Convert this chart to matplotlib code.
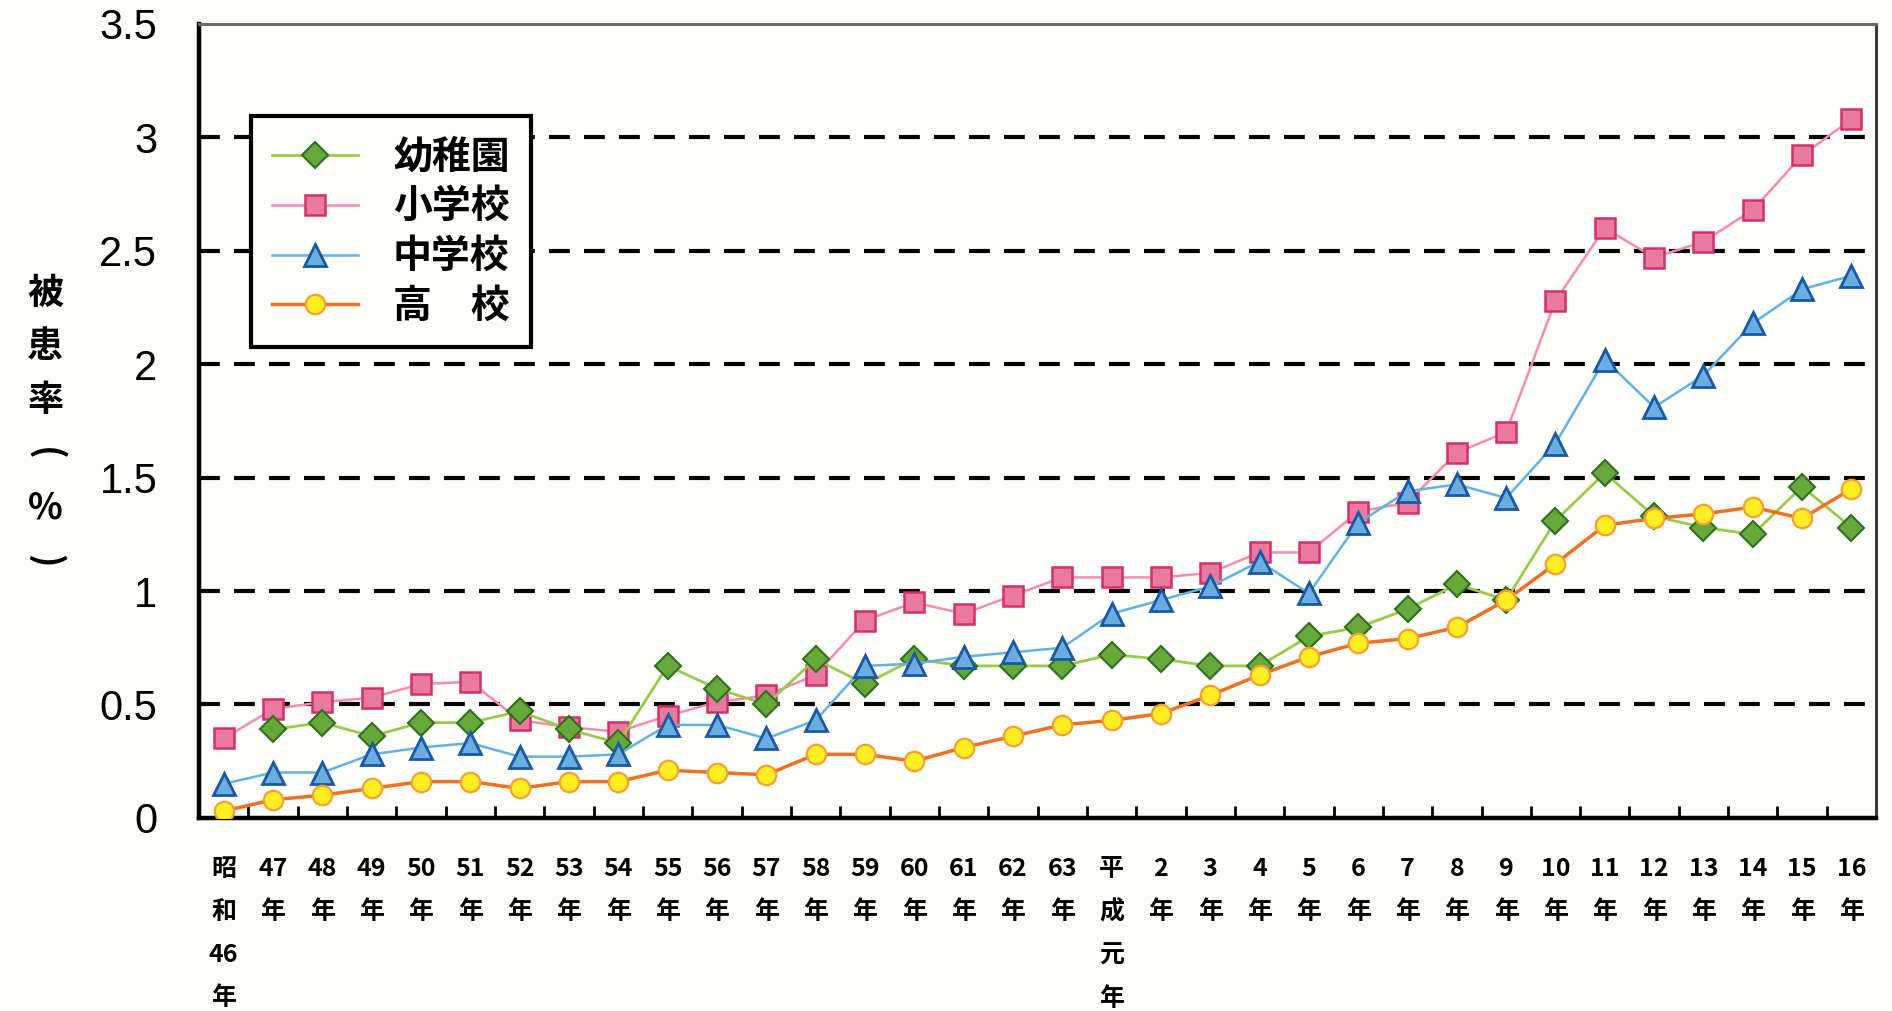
import numpy as np
import matplotlib
matplotlib.use("Agg")
import matplotlib.pyplot as plt

plt.rcParams['font.family'] = ['Noto Sans CJK JP', 'DejaVu Sans']

# ---------------- data ----------------
years = ["昭\n和\n46\n年"] + [f"{y}\n年" for y in range(47, 64)] + ["平\n成\n元\n年"] + \
        [f"{y}\n年" for y in range(2, 17)]

kindergarten = [np.nan, 0.39, 0.42, 0.36, 0.42, 0.42, 0.47, 0.39, 0.33, 0.67,
                0.57, 0.50, 0.70, 0.59, 0.70, 0.67, 0.67, 0.67, 0.72, 0.70,
                0.67, 0.67, 0.80, 0.84, 0.92, 1.03, 0.96, 1.31, 1.52, 1.33,
                1.28, 1.25, 1.46, 1.28]
elementary = [0.35, 0.48, 0.51, 0.53, 0.59, 0.60, 0.43, 0.40, 0.38, 0.45,
              0.51, 0.54, 0.63, 0.87, 0.95, 0.90, 0.98, 1.06, 1.06, 1.06,
              1.08, 1.17, 1.17, 1.35, 1.39, 1.61, 1.70, 2.28, 2.60, 2.47,
              2.54, 2.68, 2.92, 3.08]
junior_high = [0.15, 0.20, 0.20, 0.28, 0.31, 0.33, 0.27, 0.27, 0.28, 0.41,
               0.41, 0.35, 0.43, 0.67, 0.68, 0.71, 0.73, 0.75, 0.90, 0.96,
               1.02, 1.13, 0.99, 1.30, 1.44, 1.47, 1.41, 1.65, 2.02, 1.81,
               1.95, 2.18, 2.33, 2.39]
high_school = [0.03, 0.08, 0.10, 0.13, 0.16, 0.16, 0.13, 0.16, 0.16, 0.21,
               0.20, 0.19, 0.28, 0.28, 0.25, 0.31, 0.36, 0.41, 0.43, 0.46,
               0.54, 0.63, 0.71, 0.77, 0.79, 0.84, 0.96, 1.12, 1.29, 1.32,
               1.34, 1.37, 1.32, 1.45]

series_names = ["幼稚園", "小学校", "中学校", "高\u3000校"]
y_ticks = [0, 0.5, 1, 1.5, 2, 2.5, 3, 3.5]
y_tick_labels = ["0", "0.5", "1", "1.5", "2", "2.5", "3", "3.5"]
y_label = "被患率(%)"

# ---------------- figure ----------------
bg = '#fdfdf9'
fig = plt.figure(figsize=(18.92, 10.11), dpi=100, facecolor=bg)
ax = fig.add_axes([0.1052, 0.191, 0.8864, 0.7854], facecolor=bg)

x = np.arange(len(years))

# dashed gridlines
for yv in y_ticks[1:-1]:
    ax.axhline(yv, color='black', lw=3, linestyle=(0, (5, 3.4)), zorder=1)

styles = [
    dict(color='#9acb48', lw=2.0, marker='D', ms=13, mfc='#66a83a', mec='#2f6f20', mew=1.5),
    dict(color='#f28db2', lw=1.8, marker='s', ms=15, mfc='#e8799f', mec='#d3306b', mew=1.8),
    dict(color='#62b2e2', lw=1.8, marker='^', ms=16, mfc='#6aaee0', mec='#1a58a6', mew=2.0),
    dict(color='#f07022', lw=2.5, marker='o', ms=14, mfc='#ffee22', mec='#f7a030', mew=1.6),
]
data = [kindergarten, elementary, junior_high, high_school]
zorders = [3, 2, 4, 5]
for d, nm, st, z in zip(data, series_names, styles, zorders):
    ax.plot(x, d, label=nm, zorder=z, **st)

ax.set_xlim(-0.5, len(years) - 0.5)
ax.set_ylim(0, 3.5)

ax.set_yticks(y_ticks)
ax.set_yticklabels(y_tick_labels, fontsize=30,
                   family=['Liberation Sans Narrow', 'Liberation Sans'])
ax.tick_params(axis='y', direction='in', length=6, width=2, pad=30)

ax.set_xticks(x)
ax.set_xticklabels(years, fontsize=18, fontweight='bold')
ax.set_xticks(np.arange(-0.5, len(years)), minor=True)
ax.tick_params(axis='x', which='major', length=0, pad=28)
ax.tick_params(axis='x', which='minor', direction='in', length=9, width=2)
for t in ax.get_xticklabels():
    t.set_linespacing(2.0)
    t.set_verticalalignment('top')

for s in ['left', 'bottom']:
    ax.spines[s].set_linewidth(3.2)
    ax.spines[s].set_color('black')
ax.spines['top'].set_linewidth(2.2)
ax.spines['top'].set_color('#6a6a6a')
ax.spines['right'].set_linewidth(2.2)
ax.spines['right'].set_color('#3a3a3a')

leg = ax.legend(loc='upper left', bbox_to_anchor=(0.031, 0.884),
                prop={'weight': 'bold', 'size': 28}, frameon=True, fancybox=False,
                edgecolor='black', facecolor=bg, framealpha=1, handlelength=2.2,
                handletextpad=0.9, labelspacing=0.28, borderpad=0.55,
                borderaxespad=0)
leg.get_frame().set_linewidth(3)
leg.set_zorder(10)

# vertical y-axis label, one character per row (parentheses turned sideways)
label_top, label_step = 0.710, 0.053
for i, ch in enumerate(y_label):
    rot = -90 if ch in "()" else 0
    fig.text(0.024, label_top - i * label_step, ch, fontsize=26, fontweight='bold',
             ha='center', va='center', rotation=rot)

fig.savefig('out.png', dpi=100, facecolor=bg)
